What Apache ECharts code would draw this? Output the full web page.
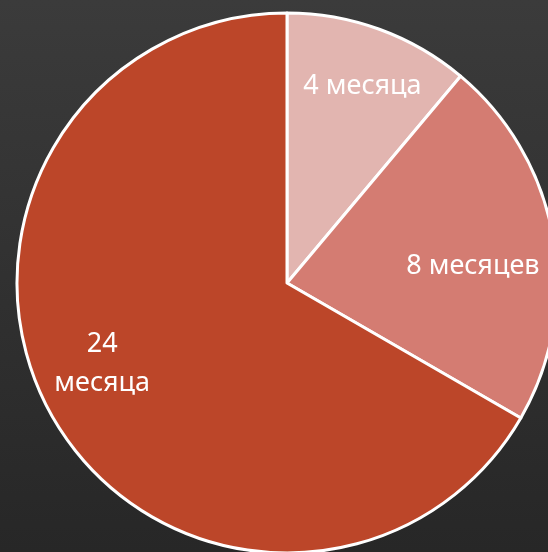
<!DOCTYPE html>
<html>
<head>
<meta charset="utf-8">
<style>
  html, body { margin: 0; padding: 0; }
  #chart { width: 548px; height: 552px; }
</style>
<script src="https://cdn.jsdelivr.net/npm/echarts@6/dist/echarts.min.js"></script>
</head>
<body>
<div id="chart"></div>
<script>
// данные
const categories = ["4 месяца", "8 месяцев", "24 месяца"];
const values = [4, 8, 24];
const colors = ["#E2B5B0", "#D47C72", "#BC4629"];

// небольшие сдвиги подписей
const labelShift = [[6, -6], [-14, 19], [-9, -21]];

const chart = echarts.init(document.getElementById("chart"));

const pieData = categories.map((name, i) => ({
  name: name,
  value: values[i],
  itemStyle: { color: colors[i] }
}));

chart.setOption({
  backgroundColor: new echarts.graphic.LinearGradient(0, 0, 0, 1, [
    { offset: 0, color: "#3b3b3b" },
    { offset: 1, color: "#272727" }
  ]),
  animation: false,
  series: [
    {
      type: "pie",
      center: [287, 283],
      radius: 270,
      startAngle: 90,
      clockwise: true,
      silent: true,
      itemStyle: { borderColor: "#ffffff", borderWidth: 3 },
      label: { show: false },
      labelLine: { show: false },
      data: pieData
    },
    {
      // только подписи
      type: "pie",
      center: [287, 283],
      radius: [0, 400],
      startAngle: 90,
      clockwise: true,
      silent: true,
      itemStyle: { color: "rgba(0,0,0,0)", borderWidth: 0 },
      label: {
        show: true,
        position: "inside",
        color: "#ffffff",
        fontFamily: "Noto Sans",
        fontSize: 27,
        lineHeight: 39,
        textBorderWidth: 0,
        formatter: p => (p.dataIndex === 2 ? p.name.replace(" ", "\n") : p.name)
      },
      labelLine: { show: false },
      labelLayout: p => ({ dx: labelShift[p.dataIndex][0], dy: labelShift[p.dataIndex][1] }),
      data: categories.map((name, i) => ({ name: name, value: values[i] }))
    }
  ]
});
</script>
</body>
</html>
